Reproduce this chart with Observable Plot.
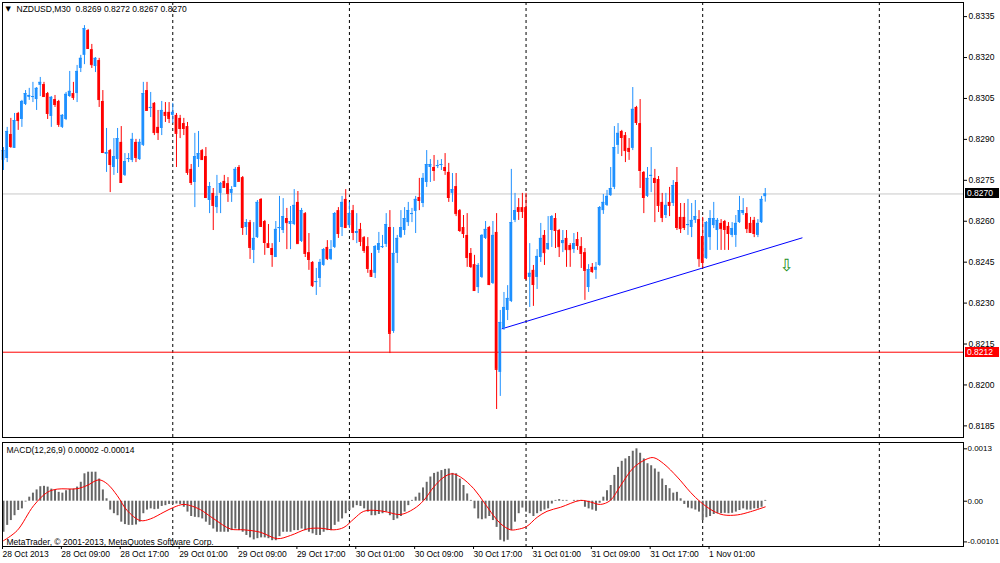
<!DOCTYPE html>
<html>
<head>
<meta charset="utf-8">
<script src="https://cdn.jsdelivr.net/npm/d3@7"></script>
<script src="https://cdn.jsdelivr.net/npm/@observablehq/plot@0.6"></script>
<style>
  html, body { margin: 0; padding: 0; background: #fff; }
  #chart { position: relative; width: 1000px; height: 563px; overflow: hidden; background: #fff; }
  #chart svg { position: absolute; left: 0; }
  .pricebox { position: absolute; left: 965px; width: 34px; height: 10px; line-height: 10px;
    color: #fff; font-family: 'Liberation Sans', Arial, sans-serif; font-size: 8.5px; padding-left: 2px; box-sizing: border-box; }
</style>
</head>
<body>
<div id="chart"></div>
<script>
// ---------- DATA (NZDUSD, M30, bars from 28 Oct 2013 01:00) ----------
const open = [
0.82823,0.82830,0.82918,0.82867,0.82995,0.82973,0.83028,0.83054,0.83054,0.83046,
0.83098,0.83101,0.83068,0.82984,0.83046,0.83039,0.82944,0.82973,0.83057,0.83068,
0.83068,0.83160,0.83208,0.83299,0.83229,0.83167,0.83189,0.83039,0.82845,0.82859,
0.82797,0.82826,0.82889,0.82768,0.82826,0.82823,0.82889,0.82826,0.82878,0.83079,
0.83013,0.83032,0.82944,0.82940,0.82999,0.82999,0.82988,0.82988,0.82977,0.82958,
0.82947,0.82790,0.82742,0.82826,0.82859,0.82837,0.82676,0.82702,0.82650,0.82702,
0.82746,0.82738,0.82702,0.82724,0.82797,0.82760,0.82577,0.82595,0.82493,0.82540,
0.82680,0.82599,0.82518,0.82500,0.82467,0.82573,0.82566,0.82610,0.82588,0.82588,
0.82669,0.82526,0.82628,0.82485,0.82449,0.82375,0.82390,0.82438,0.82504,0.82460,
0.82504,0.82639,0.82577,0.82680,0.82584,0.82639,0.82555,0.82570,0.82540,0.82507,
0.82420,0.82409,0.82493,0.82504,0.82515,0.82577,0.82196,0.82482,0.82540,0.82566,
0.82595,0.82625,0.82636,0.82687,0.82665,0.82742,0.82797,0.82797,0.82801,0.82804,
0.82797,0.82779,0.82702,0.82727,0.82639,0.82577,0.82548,0.82482,0.82441,0.82357,
0.82394,0.82537,0.82577,0.82372,0.82559,0.82046,0.82207,0.82273,0.82306,0.82603,
0.82650,0.82650,0.82650,0.82394,0.82420,0.82394,0.82467,0.82548,0.82496,0.82566,
0.82610,0.82566,0.82518,0.82537,0.82511,0.82496,0.82533,0.82507,0.82485,0.82357,
0.82431,0.82420,0.82438,0.82639,0.82658,0.82694,0.82724,0.82878,0.82929,0.82914,
0.82867,0.82867,0.83017,0.82958,0.82779,0.82691,0.82764,0.82757,0.82753,0.82669,
0.82621,0.82669,0.82665,0.82742,0.82614,0.82614,0.82584,0.82577,0.82603,0.82606,
0.82544,0.82463,0.82540,0.82584,0.82566,0.82592,0.82599,0.82581,0.82548,0.82548,
0.82595,0.82628,0.82628,0.82592,0.82603,0.82548,0.82595,0.82690];
const high = [
0.82870,0.82944,0.82977,0.82995,0.82999,0.83043,0.83079,0.83087,0.83109,0.83090,
0.83127,0.83109,0.83072,0.83057,0.83061,0.83043,0.82991,0.83072,0.83149,0.83109,
0.83171,0.83208,0.83317,0.83303,0.83248,0.83200,0.83197,0.83079,0.82940,0.82863,
0.82903,0.82940,0.82947,0.82848,0.82848,0.82922,0.82900,0.82900,0.83109,0.83109,
0.83072,0.83035,0.83006,0.83039,0.83035,0.83035,0.83032,0.82995,0.82988,0.82977,
0.82962,0.82808,0.82922,0.82929,0.82863,0.82870,0.82742,0.82720,0.82768,0.82742,
0.82768,0.82760,0.82727,0.82797,0.82804,0.82764,0.82606,0.82603,0.82595,0.82676,
0.82683,0.82603,0.82588,0.82518,0.82599,0.82691,0.82683,0.82647,0.82654,0.82716,
0.82709,0.82647,0.82632,0.82555,0.82452,0.82427,0.82460,0.82500,0.82529,0.82529,
0.82632,0.82650,0.82691,0.82716,0.82669,0.82658,0.82628,0.82592,0.82544,0.82540,
0.82482,0.82511,0.82559,0.82548,0.82628,0.82639,0.82577,0.82548,0.82639,0.82650,
0.82669,0.82647,0.82691,0.82757,0.82775,0.82859,0.82826,0.82841,0.82823,0.82826,
0.82848,0.82812,0.82775,0.82775,0.82643,0.82621,0.82628,0.82500,0.82475,0.82445,
0.82551,0.82599,0.82581,0.82599,0.82628,0.82273,0.82339,0.82364,0.82790,0.82702,
0.82683,0.82702,0.82702,0.82518,0.82438,0.82496,0.82592,0.82566,0.82617,0.82621,
0.82628,0.82570,0.82566,0.82566,0.82518,0.82555,0.82559,0.82540,0.82500,0.82441,
0.82445,0.82449,0.82654,0.82698,0.82713,0.82797,0.82947,0.82958,0.82933,0.82925,
0.82903,0.83090,0.83021,0.83046,0.82782,0.82797,0.82870,0.82790,0.82764,0.82702,
0.82702,0.82724,0.82749,0.82797,0.82665,0.82665,0.82680,0.82665,0.82676,0.82639,
0.82614,0.82599,0.82639,0.82669,0.82610,0.82606,0.82603,0.82595,0.82595,0.82621,
0.82691,0.82683,0.82650,0.82614,0.82614,0.82606,0.82691,0.82720];
const low = [
0.82786,0.82815,0.82867,0.82867,0.82933,0.82944,0.83024,0.83043,0.83035,0.83006,
0.83057,0.83054,0.82973,0.82944,0.83017,0.82944,0.82940,0.82969,0.83054,0.83043,
0.83035,0.83145,0.83174,0.83233,0.83160,0.83145,0.83017,0.82848,0.82779,0.82705,
0.82768,0.82775,0.82742,0.82764,0.82815,0.82815,0.82815,0.82823,0.82874,0.83006,
0.82980,0.82914,0.82896,0.82914,0.82962,0.82958,0.82958,0.82797,0.82903,0.82914,
0.82768,0.82731,0.82650,0.82797,0.82823,0.82683,0.82628,0.82566,0.82628,0.82628,
0.82720,0.82669,0.82669,0.82724,0.82746,0.82548,0.82548,0.82460,0.82445,0.82537,
0.82577,0.82475,0.82500,0.82431,0.82467,0.82522,0.82555,0.82496,0.82496,0.82584,
0.82515,0.82522,0.82467,0.82420,0.82357,0.82328,0.82357,0.82435,0.82456,0.82456,
0.82500,0.82537,0.82544,0.82573,0.82573,0.82529,0.82518,0.82507,0.82482,0.82409,
0.82394,0.82390,0.82482,0.82500,0.82504,0.82115,0.82189,0.82445,0.82537,0.82548,
0.82581,0.82595,0.82555,0.82639,0.82650,0.82724,0.82742,0.82746,0.82793,0.82786,
0.82768,0.82669,0.82669,0.82617,0.82559,0.82537,0.82431,0.82427,0.82343,0.82335,
0.82390,0.82533,0.82364,0.82368,0.81910,0.81958,0.82200,0.82236,0.82302,0.82595,
0.82603,0.82610,0.82383,0.82284,0.82288,0.82350,0.82449,0.82438,0.82493,0.82504,
0.82500,0.82467,0.82485,0.82431,0.82431,0.82482,0.82493,0.82427,0.82310,0.82339,
0.82409,0.82387,0.82435,0.82625,0.82654,0.82691,0.82716,0.82845,0.82837,0.82815,
0.82823,0.82859,0.82951,0.82720,0.82628,0.82687,0.82705,0.82595,0.82632,0.82595,
0.82610,0.82617,0.82654,0.82566,0.82555,0.82566,0.82548,0.82540,0.82592,0.82431,
0.82427,0.82460,0.82493,0.82573,0.82493,0.82493,0.82493,0.82493,0.82540,0.82504,
0.82592,0.82621,0.82555,0.82555,0.82540,0.82540,0.82592,0.82670];
const close = [
0.82859,0.82929,0.82874,0.82969,0.82969,0.83039,0.83068,0.83061,0.83057,0.83087,
0.83109,0.83057,0.82995,0.83054,0.83028,0.82955,0.82988,0.83065,0.83076,0.83054,
0.83149,0.83197,0.83306,0.83233,0.83174,0.83197,0.83046,0.82852,0.82852,0.82808,
0.82837,0.82903,0.82742,0.82819,0.82830,0.82900,0.82834,0.82889,0.83068,0.83006,
0.83017,0.82925,0.82925,0.83006,0.82988,0.82977,0.82999,0.82922,0.82940,0.82940,
0.82779,0.82742,0.82837,0.82848,0.82826,0.82687,0.82727,0.82658,0.82691,0.82738,
0.82724,0.82702,0.82716,0.82790,0.82746,0.82577,0.82595,0.82504,0.82537,0.82669,
0.82581,0.82522,0.82504,0.82478,0.82570,0.82577,0.82617,0.82595,0.82599,0.82658,
0.82518,0.82639,0.82482,0.82460,0.82364,0.82379,0.82449,0.82496,0.82463,0.82496,
0.82628,0.82555,0.82669,0.82577,0.82628,0.82559,0.82562,0.82526,0.82493,0.82427,
0.82398,0.82507,0.82518,0.82507,0.82588,0.82189,0.82482,0.82537,0.82577,0.82610,
0.82639,0.82628,0.82680,0.82676,0.82757,0.82808,0.82808,0.82786,0.82804,0.82808,
0.82786,0.82687,0.82716,0.82628,0.82566,0.82555,0.82467,0.82434,0.82346,0.82438,
0.82548,0.82570,0.82368,0.82548,0.82057,0.82229,0.82284,0.82317,0.82595,0.82639,
0.82636,0.82636,0.82390,0.82409,0.82368,0.82471,0.82537,0.82485,0.82518,0.82617,
0.82566,0.82507,0.82529,0.82496,0.82496,0.82518,0.82511,0.82482,0.82420,0.82423,
0.82416,0.82431,0.82650,0.82669,0.82691,0.82720,0.82870,0.82922,0.82907,0.82859,
0.82856,0.83010,0.82962,0.82786,0.82687,0.82757,0.82768,0.82742,0.82658,0.82614,
0.82658,0.82658,0.82731,0.82577,0.82573,0.82577,0.82588,0.82603,0.82617,0.82463,
0.82449,0.82595,0.82610,0.82610,0.82603,0.82573,0.82570,0.82555,0.82573,0.82592,
0.82639,0.82639,0.82573,0.82559,0.82555,0.82592,0.82680,0.82700];

// MACD(12,26,9) main line (histogram) per bar
const macdMain = [
-0.00077,-0.00060,-0.00048,-0.00036,-0.00023,-0.00019,-0.00002,0.00010,0.00020,0.00028,
0.00036,0.00037,0.00035,0.00030,0.00028,0.00022,0.00020,0.00026,0.00029,0.00030,
0.00035,0.00047,0.00068,0.00072,0.00072,0.00072,0.00055,0.00028,0.00006,-0.00022,
-0.00031,-0.00036,-0.00052,-0.00058,-0.00060,-0.00060,-0.00059,-0.00052,-0.00031,-0.00022,
-0.00019,-0.00021,-0.00020,-0.00013,-0.00011,-0.00008,-0.00008,-0.00007,-0.00008,-0.00015,
-0.00027,-0.00038,-0.00040,-0.00041,-0.00044,-0.00052,-0.00060,-0.00069,-0.00077,-0.00077,
-0.00077,-0.00077,-0.00073,-0.00069,-0.00073,-0.00077,-0.00085,-0.00091,-0.00096,-0.00093,
-0.00091,-0.00091,-0.00093,-0.00098,-0.00098,-0.00088,-0.00077,-0.00077,-0.00077,-0.00073,
-0.00073,-0.00069,-0.00073,-0.00077,-0.00081,-0.00085,-0.00085,-0.00077,-0.00073,-0.00073,
-0.00060,-0.00052,-0.00044,-0.00031,-0.00023,-0.00017,-0.00011,-0.00013,-0.00019,-0.00027,
-0.00036,-0.00036,-0.00033,-0.00031,-0.00027,-0.00036,-0.00048,-0.00044,-0.00038,-0.00027,
-0.00011,0.00002,0.00010,0.00020,0.00033,0.00047,0.00060,0.00069,0.00072,0.00076,
0.00079,0.00080,0.00069,0.00068,0.00055,0.00039,0.00018,0.00002,-0.00019,-0.00044,
-0.00046,-0.00044,-0.00038,-0.00048,-0.00065,-0.00097,-0.00101,-0.00097,-0.00073,-0.00052,
-0.00031,-0.00017,-0.00027,-0.00031,-0.00038,-0.00031,-0.00026,-0.00022,-0.00019,-0.00007,
0.00002,0.00004,0.00002,0.00002,0.00000,0.00002,0.00002,0.00002,-0.00015,-0.00019,
-0.00022,-0.00025,-0.00005,0.00010,0.00026,0.00039,0.00064,0.00084,0.00099,0.00105,
0.00111,0.00124,0.00130,0.00119,0.00105,0.00093,0.00088,0.00080,0.00072,0.00055,
0.00039,0.00031,0.00020,0.00022,0.00006,-0.00008,-0.00017,-0.00019,-0.00022,-0.00027,
-0.00048,-0.00041,-0.00038,-0.00033,-0.00031,-0.00031,-0.00030,-0.00031,-0.00030,-0.00027,
-0.00023,-0.00019,-0.00022,-0.00022,-0.00019,-0.00019,-0.00015,0.00002];

// Signal line, read at bar positions
const signalBar = [0,3.7,8.2,11.9,14.6,20.0,22.7,25.9,28.2,30.9,33.6,37.2,39.9,43.6,46.3,48.8,50.8,53.5,57.2,61.7,
65.3,69.8,74.4,78.0,82.5,86.1,89.8,92.5,95.2,97.9,101.5,104.3,107.9,111.5,114.2,116.9,119.7,121.9,124.2,127.8,
130.5,133.2,135.1,137.8,139.6,142.1,145.0,147.7,151.4,156.8,159.5,162.2,164.9,167.7,171.3,174.9,176.7,179.4,183.1,186.7,
189.4,193.0,195.7,199.4,203.0,207];
const signalVal = [-0.00098,-0.00073,-0.00011,0.00022,0.00030,0.00031,0.00039,0.00053,0.00043,0.00014,
-0.00023,-0.00048,-0.00044,-0.00027,-0.00015,-0.00008,-0.00011,-0.00021,-0.00044,-0.00069,
-0.00071,-0.00077,-0.00093,-0.00085,-0.00069,-0.00067,-0.00071,-0.00065,-0.00044,-0.00025,
-0.00023,-0.00027,-0.00033,-0.00019,0.00002,0.00035,0.00060,0.00068,0.00060,0.00031,
-0.00002,-0.00036,-0.00056,-0.00071,-0.00070,-0.00063,-0.00040,-0.00025,-0.00015,0.00002,
-0.00002,-0.00008,0.00002,0.00039,0.00084,0.00105,0.00108,0.00093,0.00060,0.00022,
-0.00002,-0.00025,-0.00034,-0.00034,-0.00026,-0.00014];

// Time axis labels (every 16 bars) and day separators (bar index)
const xLabelBars = [0,16,32,48,64,80,96,112,128,144,160,176,192];
const xLabels = ["28 Oct 2013","28 Oct 09:00","28 Oct 17:00","29 Oct 01:00","29 Oct 09:00","29 Oct 17:00",
  "30 Oct 01:00","30 Oct 09:00","30 Oct 17:00","31 Oct 01:00","31 Oct 09:00","31 Oct 17:00","1 Nov 01:00"];
const daySeparators = [46,94,142,190,238];

// Price axis
const priceTicks = [0.8185,0.8200,0.8215,0.8230,0.8245,0.8260,0.8275,0.8290,0.8305,0.8320,0.8335];
const bidPrice = 0.8270;
const levelPrice = 0.8212;
// Trend line (bar, price)
const trendBar = [135.5, 217];
const trendPrice = [0.82206, 0.82539];
// Sell arrow object
const arrowBar = [212.8];
const arrowPrice = [0.82463];
// MACD axis
const macdTicks = [0.0013, 0, -0.00101];
const macdTickLabels = ["0.0013", "0.00", "-0.00101"];

const titleText = "NZDUSD,M30  0.8269 0.8272 0.8267 0.8270";
const macdText = "MACD(12,26,9) 0.00002 -0.00014";
const copyText = "MetaTrader, \u00A9 2001-2013, MetaQuotes Software Corp.";

// ---------- BUILD ----------
const BLUE = "#1e90ff", RED = "#ff0000";
const candles = close.map((c, i) => ({i, open: open[i], high: high[i], low: low[i], close: c}));
const col = d => d.close >= d.open ? BLUE : RED;
const hist = macdMain.map((v, i) => ({i, v}));
const signal = signalBar.map((b, k) => ({i: b, v: signalVal[k]}));
const trend = trendBar.map((b, k) => ({i: b, p: trendPrice[k]}));
const arrow = arrowBar.map((b, k) => ({i: b, p: arrowPrice[k]}));

const xDomain = [-0.27, 260.87];
const FONT = "'Liberation Sans', Arial, sans-serif";
const common = {
  width: 1000, marginLeft: 2, marginRight: 37,
  style: {fontFamily: FONT, fontSize: "8.5px", color: "black", background: "transparent", overflow: "visible"}
};
const hw = 0.38;

const main = Plot.plot({
  ...common,
  height: 440, marginTop: 2, marginBottom: 3,
  x: {domain: xDomain, axis: null},
  y: {domain: [0.818074, 0.834017], axis: null, label: null},
  marks: [
    Plot.ruleX(daySeparators, {stroke: "black", strokeDasharray: "3,3", strokeWidth: 1}),
    Plot.ruleY([bidPrice], {stroke: "#c8c8c8"}),
    Plot.ruleY([levelPrice], {stroke: "#ff0000"}),
    Plot.line(trend, {x: "i", y: "p", stroke: "#0000ff", strokeWidth: 1}),
    Plot.ruleX(candles, {x: "i", y1: "low", y2: "high", stroke: col, strokeWidth: 1}),
    Plot.rect(candles, {x1: d => d.i - hw, x2: d => d.i + hw, y1: "open", y2: "close", fill: col}),
    Plot.ruleY(candles, {y: "close", x1: d => d.i - hw, x2: d => d.i + hw, stroke: col}),
    Plot.text(arrow, {x: "i", y: "p", text: () => "\u21E9", fill: "#1d8f1d", fontSize: 17, lineAnchor: "top", fontFamily: "DejaVu Sans"}),
    Plot.axisY(priceTicks, {anchor: "right", tickSize: 3, tickPadding: 2, tickFormat: d => d.toFixed(4), label: null}),
    Plot.text([titleText], {frameAnchor: "top-left", dx: 14, dy: 3, lineAnchor: "top", textAnchor: "start", fontSize: 8.5}),
    Plot.text(["\u25BC"], {frameAnchor: "top-left", dx: 3, dy: 4, lineAnchor: "top", textAnchor: "start", fontSize: 7, fontFamily: "DejaVu Sans"}),
    Plot.frame({stroke: "black"})
  ]
});

const macd = Plot.plot({
  ...common,
  height: 123, marginTop: 2, marginBottom: 17,
  x: {domain: xDomain, axis: null},
  y: {domain: [-0.001124, 0.001457], axis: null, label: null},
  marks: [
    Plot.ruleX(daySeparators, {stroke: "black", strokeDasharray: "3,3", strokeWidth: 1}),
    Plot.ruleX(hist, {x: "i", y1: 0, y2: "v", stroke: "#666666", strokeWidth: 2}),
    Plot.line(signal, {x: "i", y: "v", stroke: "#ff0000", strokeWidth: 1, curve: "catmull-rom"}),
    Plot.axisY(macdTicks, {anchor: "right", tickSize: 3, tickPadding: 1, fontSize: 8,
      tickFormat: d => macdTickLabels[macdTicks.indexOf(d)], label: null}),
    Plot.axisX(xLabelBars, {anchor: "bottom", tickSize: 3, tickPadding: 1, textAnchor: "start", dx: -1,
      tickFormat: d => xLabels[xLabelBars.indexOf(d)], label: null}),
    Plot.text([macdText], {frameAnchor: "top-left", dx: 4, dy: 4, lineAnchor: "top", textAnchor: "start"}),
    Plot.text([copyText], {frameAnchor: "bottom-left", dx: 4, dy: -2, lineAnchor: "bottom", textAnchor: "start"}),
    Plot.frame({stroke: "black"})
  ]
});

const host = document.getElementById("chart");
main.style.top = "0px";
macd.style.top = "440px";
host.appendChild(main);
host.appendChild(macd);

// price labels (bid / horizontal line) placed with the price scale
const ys = main.scale("y");
for (const [p, bg] of [[bidPrice, "#000000"], [levelPrice, "#ff0000"]]) {
  const div = document.createElement("div");
  div.className = "pricebox";
  div.style.top = (ys.apply(p) - 5) + "px";
  div.style.background = bg;
  div.textContent = p.toFixed(4);
  host.appendChild(div);
}
</script>
</body>
</html>
